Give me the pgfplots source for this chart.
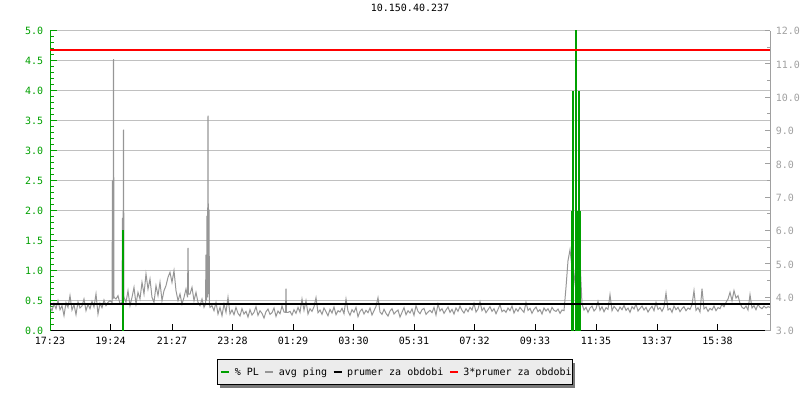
\documentclass[border=0pt]{standalone}
\usepackage{pgfplots}
\pgfplotsset{compat=1.18}
\usepackage{fontspec}
\setmainfont{DejaVu Sans Mono}
\definecolor{plgreen}{RGB}{0,160,0}
\definecolor{pinggray}{RGB}{150,150,150}
\definecolor{gridgray}{RGB}{192,192,192}
\definecolor{raxis}{RGB}{160,160,160}
\definecolor{legfill}{RGB}{236,236,236}
\definecolor{shadowgray}{RGB}{120,120,120}
\definecolor{avgred}{RGB}{255,0,0}
\begin{document}
\fontsize{10bp}{12bp}\selectfont
\begin{tikzpicture}
\useasboundingbox (0,0) rectangle (800bp,400bp);
% legend frame and its shadow
\fill[shadowgray] (220bp,12bp) rectangle (575bp,37bp);
\filldraw[fill=legfill, draw=black, line width=1bp] (217bp,15bp) rectangle (572bp,40bp);
\pgfplotsset{base/.style={at={(50bp,69.3bp)}, anchor=south west, width=720bp, height=300.2bp, scale only axis, xmin=0, xmax=1440, /pgf/number format/assume math mode=true}}
% left axis: grid, x ticks, % PL scale
\begin{axis}[base, ymin=0, ymax=5,
  axis x line=bottom, axis y line=left,
  x axis line style={-, black, line width=1bp},
  y axis line style={-, plgreen, line width=1bp},
  xtick={0,121,244,365,486,607,728,849,970,1092,1214,1335},
  xticklabels={17:23,19:24,21:27,23:28,01:29,03:30,05:31,07:32,09:33,11:35,13:37,15:38},
  ytick={0,0.5,1,1.5,2,2.5,3,3.5,4,4.5,5},
  minor y tick num=4,
  xtick pos=left, ytick pos=left,
  tick align=inside,
  major tick length=6.5bp, minor tick length=4bp,
  x tick style={black, line width=1bp},
  y tick style={plgreen, line width=1bp},
  y tick label style={plgreen, inner sep=0pt, anchor=base east, xshift=-6.7bp, yshift=-4.2bp, /pgf/number format/.cd, fixed, fixed zerofill, precision=1},
  x tick label style={black, inner sep=0pt, anchor=base, yshift=-14.3bp},
  ymajorgrids, major grid style={gridgray, line width=1bp},
  title={10.150.40.237},
  title style={at={(0.5,1)}, anchor=base, inner sep=0pt, yshift=13.2bp},
]
\addplot[draw=none] coordinates {(0,0)};
\end{axis}
% right axis: avg ping (ms)
\begin{axis}[base, ymin=3, ymax=12,
  axis y line=right, axis x line=none, xtick=\empty,
  y axis line style={-, raxis, line width=1bp},
  ytick={3,4,5,6,7,8,9,10,11,12}, minor y tick num=1, ytick pos=right,
  tick align=inside, major tick length=5bp, minor tick length=3.5bp,
  y tick style={raxis, line width=1bp},
  y tick label style={raxis, inner sep=0pt, anchor=base west, xshift=5.7bp, yshift=-4.2bp, /pgf/number format/.cd, fixed, fixed zerofill, precision=1},
  legend columns=-1,
  legend image code/.code={\draw[#1, line width=2bp] (0bp,0bp) -- (8bp,0bp);},
  legend style={at={(0.4806,-0.1392)}, anchor=center, draw=none, fill=none,
    inner sep=0pt, nodes={inner sep=0pt, text=black},
    /tikz/every odd column/.append style={column sep=4.5bp},
    /tikz/every even column/.append style={column sep=5.5bp}},
]
\addlegendimage{plgreen}
\addplot[pinggray, line width=1bp] coordinates {
(0,3.72)(4,3.60)(8,3.81)(12,3.66)(16,3.90)(20,3.63)(24,3.75)(28,3.45)(32,3.84)(36,3.70)
(40,4.05)(44,3.62)(48,3.78)(52,3.48)(56,3.86)(60,3.68)(64,3.74)(68,3.95)(72,3.60)(76,3.79)
(80,3.66)(84,3.88)(88,3.71)(92,4.10)(96,3.50)(100,3.82)(104,3.69)(108,3.92)(112,3.75)(116,3.85)
(120,3.90)(124,3.85)(125,7.50)(126,3.95)(127,11.14)(128,4.00)(132,3.95)(136,4.05)(140,3.80)
(144,3.85)(145,6.38)(146,4.20)(147,9.03)(148,4.00)(152,3.85)(156,4.20)
(160,3.75)(164,4.00)(168,4.30)(172,3.80)(176,4.15)(180,3.95)(184,4.45)(188,4.10)(192,4.70)(196,4.25)
(200,4.55)(204,4.00)(208,3.85)(212,4.35)(216,4.05)(220,4.45)(224,3.90)(228,4.20)(232,4.35)(236,4.60)
(240,4.75)(244,4.45)(248,4.80)(252,4.20)(256,3.90)(260,4.10)(264,3.80)(268,4.00)(272,4.25)
(275,4.00)(276,5.48)(277,4.10)(280,4.10)(284,4.30)(288,3.90)(292,4.15)(296,3.85)(300,3.75)(304,3.95)(308,3.70)
(311,3.80)(312,5.28)(313,3.90)(314,6.45)(315,4.00)(316,9.45)(317,4.10)(318,6.63)(319,3.80)
(320,3.70)(324,3.75)(328,3.60)(332,3.85)(336,3.50)(340,3.70)(344,3.45)(348,3.80)(352,3.55)(356,4.00)
(360,3.50)(364,3.62)(368,3.48)(372,3.70)(376,3.52)(380,3.44)(384,3.66)(388,3.50)(392,3.58)(396,3.41)
(400,3.63)(404,3.47)(408,3.55)(412,3.72)(416,3.46)(420,3.60)(424,3.52)(428,3.38)(432,3.57)(436,3.65)
(440,3.49)(444,3.54)(448,3.68)(452,3.43)(456,3.59)(460,3.51)(464,3.74)(468,3.56)(471,3.55)(472,4.26)(473,3.55)(476,3.55)
(480,3.58)(484,3.47)(488,3.63)(492,3.52)(496,3.70)(500,3.55)(504,3.95)(508,3.61)(512,3.90)(516,3.50)
(520,3.66)(524,3.58)(528,3.72)(532,3.99)(536,3.54)(540,3.62)(544,3.49)(548,3.68)(552,3.57)(556,3.45)
(560,3.64)(564,3.53)(568,3.71)(572,3.48)(576,3.60)(580,3.56)(584,3.67)(588,3.51)(592,3.95)(596,3.59)
(600,3.46)(604,3.63)(608,3.55)(612,3.70)(616,3.42)(620,3.58)(624,3.65)(628,3.50)(632,3.61)(636,3.54)
(640,3.68)(644,3.47)(648,3.60)(652,3.73)(656,3.99)(660,3.56)(664,3.49)(668,3.64)(672,3.52)(676,3.44)
(680,3.59)(684,3.66)(688,3.50)(692,3.57)(696,3.62)(700,3.41)(704,3.55)(708,3.69)(712,3.48)(716,3.60)
(720,3.53)(724,3.65)(728,3.46)(732,3.75)(736,3.58)(740,3.51)(744,3.63)(748,3.67)(752,3.49)(756,3.56)
(760,3.61)(764,3.54)(768,3.70)(772,3.47)(776,3.80)(780,3.59)(784,3.66)(788,3.52)(792,3.62)(796,3.71)
(800,3.55)(804,3.64)(808,3.50)(812,3.68)(816,3.58)(820,3.74)(824,3.61)(828,3.53)(832,3.66)(836,3.57)
(840,3.70)(844,3.62)(848,3.82)(852,3.56)(856,3.65)(860,3.87)(864,3.60)(868,3.69)(872,3.54)(876,3.63)
(880,3.72)(884,3.58)(888,3.66)(892,3.51)(896,3.64)(900,3.78)(904,3.57)(908,3.62)(912,3.55)(916,3.68)
(920,3.60)(924,3.74)(928,3.53)(932,3.66)(936,3.58)(940,3.70)(944,3.62)(948,3.55)(952,3.85)(956,3.61)
(960,3.67)(964,3.52)(968,3.64)(972,3.71)(976,3.57)(980,3.63)(984,3.50)(988,3.68)(992,3.59)(996,3.66)
(1000,3.54)(1004,3.70)(1008,3.61)(1012,3.58)(1016,3.65)(1020,3.52)(1024,3.62)(1028,3.60)(1032,4.30)(1036,5.10)
(1040,5.43)(1044,4.90)(1048,4.44)(1052,5.00)(1056,4.70)(1060,5.10)(1064,3.80)(1068,3.62)(1072,3.70)(1076,3.55)
(1080,3.68)(1084,3.74)(1088,3.59)(1092,3.66)(1096,3.88)(1100,3.61)(1104,3.72)(1108,3.57)(1112,3.69)(1116,3.64)
(1120,4.08)(1124,3.60)(1128,3.73)(1132,3.66)(1136,3.58)(1140,3.71)(1144,3.63)(1148,3.76)(1152,3.61)(1156,3.68)
(1160,3.55)(1164,3.72)(1168,3.65)(1172,3.80)(1176,3.59)(1180,3.67)(1184,3.74)(1188,3.62)(1192,3.70)(1196,3.56)
(1200,3.66)(1204,3.73)(1208,3.60)(1212,3.85)(1216,3.64)(1220,3.69)(1224,3.58)(1228,3.71)(1232,4.13)(1236,3.62)
(1240,3.67)(1244,3.55)(1248,3.74)(1252,3.63)(1256,3.70)(1260,3.57)(1264,3.66)(1268,3.72)(1272,3.60)(1276,3.68)
(1280,3.64)(1284,3.78)(1288,4.20)(1292,3.61)(1296,3.69)(1300,3.56)(1304,4.26)(1308,3.65)(1312,3.71)(1316,3.58)
(1320,3.67)(1324,3.62)(1328,3.74)(1332,3.60)(1336,3.69)(1340,3.66)(1344,3.80)(1348,3.72)(1352,3.85)(1356,3.95)
(1360,4.15)(1364,3.90)(1368,4.20)(1372,3.98)(1376,4.05)(1380,3.82)(1384,3.70)(1388,3.66)(1392,3.74)(1396,3.62)
(1400,4.08)(1404,3.68)(1408,3.75)(1412,3.63)(1416,3.79)(1420,3.70)(1424,3.66)(1428,3.74)(1432,3.68)(1436,3.72)
(1440,3.70)
};
\addlegendimage{black}
\addlegendimage{avgred}
\legend{\% PL, avg ping, prumer za obdobi, 3*prumer za obdobi}
\end{axis}
% packet loss on the left scale
\begin{axis}[base, ymin=0, ymax=5, hide axis]
\addplot[plgreen, ycomb, line width=1.2bp] coordinates {(146,1.67) (1044,2.0) (1046,4.0) (1051,2.0) (1052,5.0) (1053,3.5) (1054,2.0) (1058,4.0) (1060,2.0)};
\end{axis}
% mean and 3x mean lines on the ping scale, drawn last
\begin{axis}[base, ymin=3, ymax=12, hide axis]
\addplot[black, line width=2.2bp] coordinates {(0,3.81) (1440,3.81)};
\addplot[avgred, line width=2bp] coordinates {(0,11.43) (1440,11.43)};
\end{axis}
\end{tikzpicture}
\end{document}
